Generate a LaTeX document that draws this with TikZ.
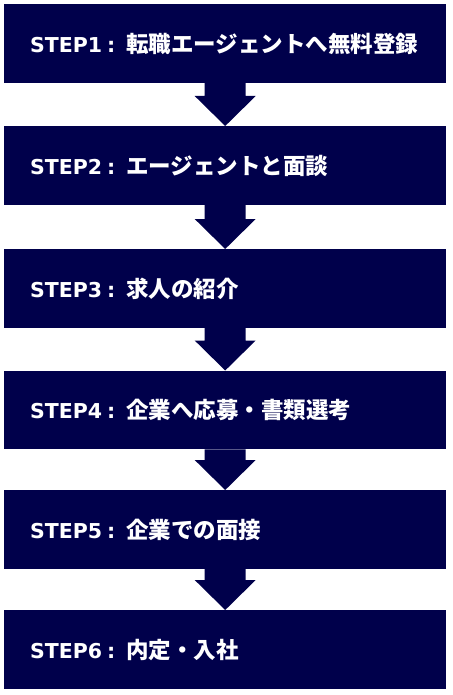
\documentclass[tikz,border=0pt]{standalone}
\usepackage{fontspec}
\newfontfamily\latf{DejaVu Sans}
\newfontfamily\cjkf{Noto Sans CJK JP}
\usetikzlibrary{calc}
\definecolor{navy}{RGB}{0,0,75}
\tikzset{
  stepbox/.style={fill=navy, draw=none, rectangle, minimum width=442pt, minimum height=78.5pt, inner sep=0pt, anchor=north west},
  steptext/.style={text=white, anchor=base west, inner sep=0pt, font=\bfseries}
}
\newcommand\steplabel[2]{\makebox[96pt][l]{\latf\fontsize{20.5pt}{24pt}\selectfont #1\hspace{5pt}:}{\cjkf\fontsize{22.5pt}{26pt}\selectfont #2}}
\newcommand\steparrow[2]{%
  \fill[navy] ([xshift=-20.5pt]#1.south) -- ([xshift=20.5pt]#1.south)
    -- ([xshift=20.5pt,yshift=30pt]#2.north) -- ([xshift=30.5pt,yshift=30pt]#2.north)
    -- (#2.north)
    -- ([xshift=-30.5pt,yshift=30pt]#2.north) -- ([xshift=-20.5pt,yshift=30pt]#2.north) -- cycle;}
\begin{document}
\begin{tikzpicture}[x=1pt,y=-1pt]
\useasboundingbox[fill=white] (0,0) rectangle (452,695);
\node[stepbox] (s1) at (4,4) {};
\node[stepbox] (s2) at (4,126) {};
\node[stepbox] (s3) at (4,249) {};
\node[stepbox] (s4) at (4,370.5) {};
\node[stepbox] (s5) at (4,490) {};
\node[stepbox] (s6) at (4,610) {};
\node[steptext] (t1) at ($(s1.west)+(26,9)$) {\steplabel{STEP1}{転職エージェントへ無料登録}};
\node[steptext] (t2) at ($(s2.west)+(26,9)$) {\steplabel{STEP2}{エージェントと面談}};
\node[steptext] (t3) at ($(s3.west)+(26,9)$) {\steplabel{STEP3}{求人の紹介}};
\node[steptext] (t4) at ($(s4.west)+(26,9)$) {\steplabel{STEP4}{企業へ応募・書類選考}};
\node[steptext] (t5) at ($(s5.west)+(26,9)$) {\steplabel{STEP5}{企業での面接}};
\node[steptext] (t6) at ($(s6.west)+(26,9)$) {\steplabel{STEP6}{内定・入社}};
\steparrow{s1}{s2}
\steparrow{s2}{s3}
\steparrow{s3}{s4}
\steparrow{s4}{s5}
\steparrow{s5}{s6}
\end{tikzpicture}
\end{document}
